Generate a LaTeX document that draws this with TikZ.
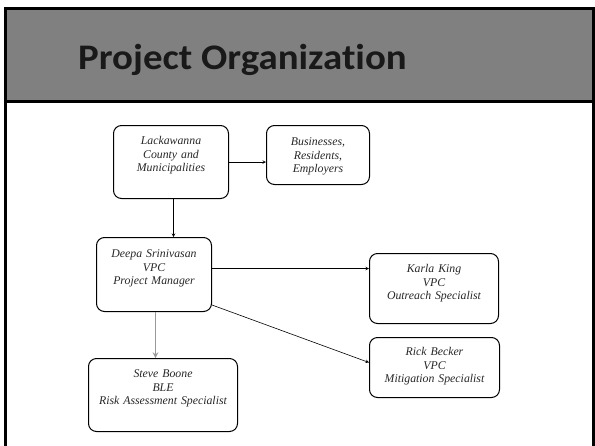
\documentclass[tikz,border=0pt]{standalone}
\usepackage{fontspec}
\newfontfamily\fontetitulo[FakeStretch=1.08, Ligatures=NoCommon]{Carlito}
\newfontfamily\fontecaixa{Liberation Serif}
\usetikzlibrary{arrows}

\begin{document}
\begin{tikzpicture}[x=1pt, y=-1pt,
        cargo/.style={rectangle, draw=black, line width=1pt, rounded corners=8pt, anchor=north west, inner sep=0pt, align=center, font=\fontecaixa\fontsize{11.8}{13.5}\selectfont\itshape, text=black!85},
        seta/.style={->,>=stealth, line width=0.6pt}
    ]
        \useasboundingbox (0,0) rectangle (595,445);

        % Moldura e cabeçalho
        \draw[line width=3pt] (5.5,8) -- (5.5,447) (593.5,8) -- (593.5,447);
        \draw[line width=3pt, fill=gray] (5.5,8) rectangle (593.5,101.5);
        \node[anchor=base west, inner sep=0pt, text=black!90, font=\fontetitulo\bfseries\fontsize{36}{40}\selectfont] (cabecalho) at (78,69) {Project Organization};

        % Caixas
        \node[cargo, text width=115pt, text height=19pt, text depth=54pt] (condado) at (113,125) {Lackawanna\\County and\\Municipalities};
        \node[cargo, text width=103pt, text height=20pt, text depth=39pt] (publico) at (266,125) {Businesses,\\Residents,\\Employers};
        \node[cargo, text width=115pt, text height=20pt, text depth=54pt] (gerente) at (96,237) {Deepa Srinivasan\\VPC\\Project Manager};
        \node[cargo, text width=129pt, text height=19pt, text depth=51pt] (alcance) at (369,253) {Karla King\\VPC\\Outreach Specialist};
        \node[cargo, text width=130pt, text height=18pt, text depth=42pt] (mitigacao) at (369,337) {Rick Becker\\VPC\\Mitigation Specialist};
        \node[cargo, text width=149pt, text height=19pt, text depth=54pt] (risco) at (88,358) {Steve Boone\\BLE\\Risk Assessment Specialist};

        % Ligações
        \draw[seta] (condado.east) -- (condado.east -| publico.west);
        \draw[seta] ([xshift=2.5pt]condado.south) -- ([xshift=2.5pt]condado.south |- gerente.north);
        \draw[seta] ([yshift=6pt]gerente.east) -- ([yshift=6pt]gerente.east -| alcance.west);
        \draw[seta] ([yshift=7pt]gerente.south east) -- ([yshift=5pt]mitigacao.west);
        \draw[seta, draw=black!40, line width=1.5pt] ([xshift=1.5pt]gerente.south) -- ([xshift=1.5pt]gerente.south |- risco.north);
    \end{tikzpicture}
\end{document}
